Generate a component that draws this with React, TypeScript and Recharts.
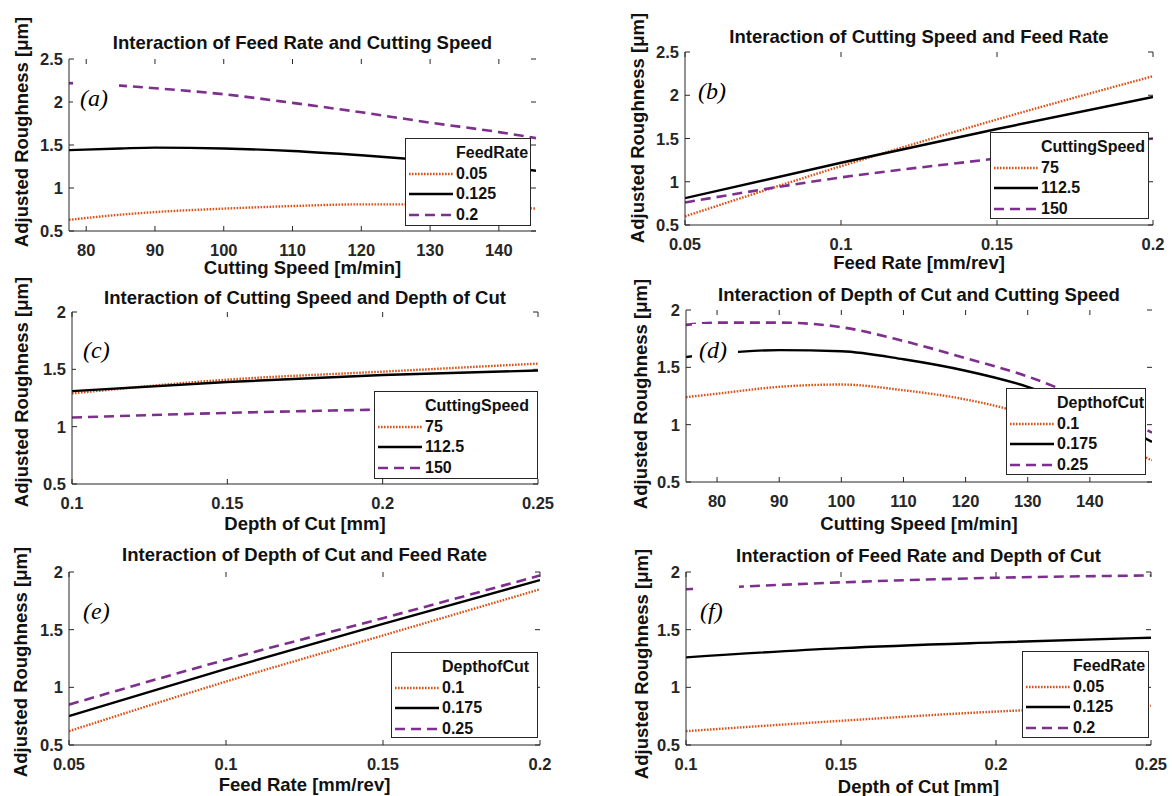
import React from 'react';
import { LineChart, Line, XAxis, YAxis } from 'recharts';

const FONT = '"Liberation Sans", Arial, Helvetica, sans-serif';
const ORANGE = '#D95319';
const PURPLE = '#7E2F8E';
const INK = '#262626';

// (a) feed rate levels over cutting speed
const speedA = [77.5, 85, 90, 100, 110, 120, 130, 140, 145.4];
const aFeed005 = [0.63, 0.69, 0.72, 0.76, 0.79, 0.81, 0.81, 0.79, 0.76];
const aFeed0125 = [1.44, 1.46, 1.47, 1.46, 1.43, 1.38, 1.32, 1.25, 1.2];
const aFeed02 = [2.22, 2.19, 2.16, 2.09, 1.99, 1.88, 1.76, 1.65, 1.58];

// (b) cutting speed levels over feed rate
const feedB = [0.05, 0.1, 0.15, 0.2];
const bSpeed75 = [0.6, 1.18, 1.72, 2.22];
const bSpeed1125 = [0.81, 1.22, 1.61, 1.98];
const bSpeed150 = [0.76, 1.05, 1.27, 1.5];

// (c) cutting speed levels over depth of cut
const depthC = [0.1, 0.15, 0.2, 0.25];
const cSpeed75 = [1.29, 1.41, 1.48, 1.55];
const cSpeed1125 = [1.31, 1.39, 1.45, 1.49];
const cSpeed150 = [1.08, 1.12, 1.15, 1.18];

// (d) depth of cut levels over cutting speed
const speedD = [75, 80, 90, 100, 110, 120, 130, 140, 150];
const dDepth01 = [1.24, 1.27, 1.33, 1.35, 1.3, 1.22, 1.09, 0.91, 0.69];
const dDepth0175 = [1.59, 1.62, 1.65, 1.64, 1.57, 1.47, 1.33, 1.12, 0.85];
const dDepth025 = [1.87, 1.89, 1.89, 1.85, 1.73, 1.58, 1.42, 1.2, 0.93];

// (e) depth of cut levels over feed rate
const feedE = [0.05, 0.1, 0.15, 0.2];
const eDepth01 = [0.62, 1.05, 1.45, 1.85];
const eDepth0175 = [0.75, 1.16, 1.55, 1.93];
const eDepth025 = [0.85, 1.24, 1.6, 1.97];

// (f) feed rate levels over depth of cut
const depthF = [0.1, 0.15, 0.2, 0.25];
const fFeed005 = [0.62, 0.71, 0.79, 0.84];
const fFeed0125 = [1.26, 1.34, 1.39, 1.43];
const fFeed02 = [1.85, 1.91, 1.95, 1.97];

const speedTicks = [80, 90, 100, 110, 120, 130, 140];
const feedTicks = [0.05, 0.1, 0.15, 0.2];
const depthTicks = [0.1, 0.15, 0.2, 0.25];
const yTicksWide = [0.5, 1, 1.5, 2, 2.5];
const yTicksNarrow = [0.5, 1, 1.5, 2];

const feedLevels = ['0.05', '0.125', '0.2'];
const speedLevels = ['75', '112.5', '150'];
const depthLevels = ['0.1', '0.175', '0.25'];

const makeRows = (xs: number[], s1: number[], s2: number[], s3: number[]) =>
  xs.map((x, i) => ({ x, s1: s1[i], s2: s2[i], s3: s3[i] }));

type Box = { l: number; r: number; t: number; b: number };

interface Panel {
  tag: string;
  rows: { x: number; s1: number; s2: number; s3: number }[];
  box: Box;
  xDomain: [number, number];
  xTicks: number[];
  yDomain: [number, number];
  yTicks: number[];
  title: string;
  titleY: number;
  xLabel: string;
  xLabelY: number;
  yLabelX: number;
  yLabelY: number;
  tagX: number;
  tagY: number;
  legendTitle: string;
  legendLabels: string[];
  legend: Box;
}

const panels: Panel[] = [
  {
    tag: '(a)', rows: makeRows(speedA, aFeed005, aFeed0125, aFeed02),
    box: { l: 69, r: 536, t: 59, b: 231 }, xDomain: [77.5, 145.4], xTicks: speedTicks,
    yDomain: [0.5, 2.5], yTicks: yTicksWide,
    title: 'Interaction of Feed Rate and Cutting Speed', titleY: 43,
    xLabel: 'Cutting Speed [m/min]', xLabelY: 268, yLabelX: 22, yLabelY: 132,
    tagX: 80, tagY: 98, legendTitle: 'FeedRate', legendLabels: feedLevels,
    legend: { l: 405, r: 531, t: 138, b: 226 },
  },
  {
    tag: '(b)', rows: makeRows(feedB, bSpeed75, bSpeed1125, bSpeed150),
    box: { l: 685, r: 1153, t: 52, b: 225 }, xDomain: [0.05, 0.2], xTicks: feedTicks,
    yDomain: [0.5, 2.5], yTicks: yTicksWide,
    title: 'Interaction of Cutting Speed and Feed Rate', titleY: 37,
    xLabel: 'Feed Rate [mm/rev]', xLabelY: 263, yLabelX: 638, yLabelY: 128,
    tagX: 698, tagY: 91, legendTitle: 'CuttingSpeed', legendLabels: speedLevels,
    legend: { l: 990, r: 1149, t: 132, b: 219 },
  },
  {
    tag: '(c)', rows: makeRows(depthC, cSpeed75, cSpeed1125, cSpeed150),
    box: { l: 72, r: 538, t: 312, b: 484 }, xDomain: [0.1, 0.25], xTicks: depthTicks,
    yDomain: [0.5, 2], yTicks: yTicksNarrow,
    title: 'Interaction of Cutting Speed and Depth of Cut', titleY: 298,
    xLabel: 'Depth of Cut [mm]', xLabelY: 524, yLabelX: 22, yLabelY: 392,
    tagX: 83, tagY: 350, legendTitle: 'CuttingSpeed', legendLabels: speedLevels,
    legend: { l: 374, r: 538, t: 391, b: 479 },
  },
  {
    tag: '(d)', rows: makeRows(speedD, dDepth01, dDepth0175, dDepth025),
    box: { l: 686, r: 1152, t: 310, b: 482 }, xDomain: [75, 150], xTicks: speedTicks,
    yDomain: [0.5, 2], yTicks: yTicksNarrow,
    title: 'Interaction of Depth of Cut and Cutting Speed', titleY: 295,
    xLabel: 'Cutting Speed [m/min]', xLabelY: 524, yLabelX: 641, yLabelY: 394,
    tagX: 699, tagY: 350, legendTitle: 'DepthofCut', legendLabels: depthLevels,
    legend: { l: 1006, r: 1146, t: 388, b: 475 },
  },
  {
    tag: '(e)', rows: makeRows(feedE, eDepth01, eDepth0175, eDepth025),
    box: { l: 69, r: 540, t: 572, b: 745 }, xDomain: [0.05, 0.2], xTicks: feedTicks,
    yDomain: [0.5, 2], yTicks: yTicksNarrow,
    title: 'Interaction of Depth of Cut and Feed Rate', titleY: 555,
    xLabel: 'Feed Rate [mm/rev]', xLabelY: 785, yLabelX: 21, yLabelY: 662,
    tagX: 83, tagY: 611, legendTitle: 'DepthofCut', legendLabels: depthLevels,
    legend: { l: 391, r: 538, t: 652, b: 738 },
  },
  {
    tag: '(f)', rows: makeRows(depthF, fFeed005, fFeed0125, fFeed02),
    box: { l: 686, r: 1151, t: 572, b: 745 }, xDomain: [0.1, 0.25], xTicks: depthTicks,
    yDomain: [0.5, 2], yTicks: yTicksNarrow,
    title: 'Interaction of Feed Rate and Depth of Cut', titleY: 556,
    xLabel: 'Depth of Cut [mm]', xLabelY: 787, yLabelX: 642, yLabelY: 664,
    tagX: 700, tagY: 611, legendTitle: 'FeedRate', legendLabels: feedLevels,
    legend: { l: 1022, r: 1149, t: 651, b: 738 },
  },
];

const series = [
  { key: 's1', color: ORANGE, dash: '1.6 1.4', width: 2.4 },
  { key: 's2', color: '#000000', dash: undefined, width: 2.4 },
  { key: 's3', color: PURPLE, dash: '10 6', width: 2.6 },
];

const PAD_L = 60;
const PAD_T = 10;
const PAD_R = 26;
const PAD_B = 34;
const TICK = 5;
const TICK_FONT = 16.5;

// bottom ticks: inward tick marks on bottom and top edges plus the label
const makeXTick = (plotTop: number, plotBottom: number) => (props: any) => {
  const { x, payload } = props;
  return (
    <g>
      <line x1={x} x2={x} y1={plotBottom} y2={plotBottom - TICK} stroke={INK} strokeWidth={1} />
      <line x1={x} x2={x} y1={plotTop} y2={plotTop + TICK} stroke={INK} strokeWidth={1} />
      <text x={x} y={plotBottom + 25} textAnchor="middle" fontFamily={FONT} fontSize={TICK_FONT}
        fontWeight={700} fill={INK}>
        {String(payload.value)}
      </text>
    </g>
  );
};

// left ticks: inward tick marks on left and right edges plus the label
const makeYTick = (plotLeft: number, plotRight: number) => (props: any) => {
  const { y, payload } = props;
  return (
    <g>
      <line x1={plotLeft} x2={plotLeft + TICK} y1={y} y2={y} stroke={INK} strokeWidth={1} />
      <line x1={plotRight} x2={plotRight - TICK} y1={y} y2={y} stroke={INK} strokeWidth={1} />
      <text x={plotLeft - 6} y={y + 6} textAnchor="end" fontFamily={FONT} fontSize={TICK_FONT}
        fontWeight={700} fill={INK}>
        {String(payload.value)}
      </text>
    </g>
  );
};

function PanelChart({ p }: { p: Panel }) {
  const pw = p.box.r - p.box.l;
  const ph = p.box.b - p.box.t;
  const w = pw + PAD_L + PAD_R;
  const h = ph + PAD_T + PAD_B;
  return (
    <div style={{ position: 'absolute', left: p.box.l - PAD_L, top: p.box.t - PAD_T }}>
      <LineChart width={w} height={h} data={p.rows} margin={{ top: PAD_T, right: PAD_R, bottom: 0, left: 0 }}>
        <XAxis xAxisId="b" dataKey="x" type="number" domain={p.xDomain} ticks={p.xTicks}
          allowDataOverflow interval={0} height={PAD_B} tickLine={false}
          tick={makeXTick(PAD_T, PAD_T + ph)} stroke={INK} />
        <XAxis xAxisId="t" orientation="top" dataKey="x" type="number" domain={p.xDomain}
          allowDataOverflow height={0} tick={false} tickLine={false} stroke={INK} />
        <YAxis yAxisId="l" type="number" domain={p.yDomain} ticks={p.yTicks} allowDataOverflow
          interval={0} width={PAD_L} tickLine={false} tick={makeYTick(PAD_L, PAD_L + pw)} stroke={INK} />
        <YAxis yAxisId="r" orientation="right" type="number" domain={p.yDomain}
          allowDataOverflow width={0} tick={false} tickLine={false} stroke={INK} />
        {series.map((s) => (
          <Line key={s.key} xAxisId="b" yAxisId="l" type="monotone" dataKey={s.key}
            stroke={s.color} strokeWidth={s.width} strokeDasharray={s.dash} dot={false}
            activeDot={false} isAnimationActive={false} />
        ))}
      </LineChart>
    </div>
  );
}

const textBase: React.CSSProperties = {
  position: 'absolute', fontFamily: FONT, fontWeight: 700, whiteSpace: 'nowrap',
  lineHeight: 1, color: '#111',
};

function Labels({ p }: { p: Panel }) {
  const cx = (p.box.l + p.box.r) / 2;
  return (
    <>
      <div style={{ ...textBase, fontSize: 18.5, left: cx, top: p.titleY, transform: 'translate(-50%, -50%)' }}>
        {p.title}
      </div>
      <div style={{ ...textBase, fontSize: 18.5, left: cx, top: p.xLabelY, transform: 'translate(-50%, -50%)' }}>
        {p.xLabel}
      </div>
      <div style={{ ...textBase, fontSize: 18.5, left: p.yLabelX, top: p.yLabelY, transform: 'translate(-50%, -50%) rotate(-90deg)' }}>
        Adjusted Roughness [μm]
      </div>
      <div style={{ position: 'absolute', left: p.tagX - 7, top: p.tagY - 26, width: 46, height: 52, background: '#fff' }}>
        <div style={{ position: 'absolute', left: 7, top: 26, transform: 'translateY(-50%)', fontFamily: '"Liberation Serif", "Times New Roman", serif', fontStyle: 'italic', fontSize: 24, lineHeight: 1, color: '#000' }}>
          {p.tag}
        </div>
      </div>
    </>
  );
}

function LegendBox({ p }: { p: Panel }) {
  const lg = p.legend;
  const rowsY = [35, 55, 76];
  return (
    <div style={{ position: 'absolute', left: lg.l, top: lg.t, width: lg.r - lg.l, height: lg.b - lg.t, border: `1px solid ${INK}`, background: '#fff', boxSizing: 'border-box' }}>
      <div style={{ ...textBase, fontSize: 16, left: 50, top: 14, transform: 'translateY(-50%)' }}>{p.legendTitle}</div>
      {series.map((s, i) => (
        <React.Fragment key={s.key}>
          <svg style={{ position: 'absolute', left: 3, top: rowsY[i] - 5 }} width={44} height={10}>
            <line x1={0} y1={5} x2={44} y2={5} stroke={s.color} strokeWidth={s.width} strokeDasharray={s.dash} />
          </svg>
          <div style={{ ...textBase, fontSize: 16, left: 50, top: rowsY[i], transform: 'translateY(-50%)' }}>
            {p.legendLabels[i]}
          </div>
        </React.Fragment>
      ))}
    </div>
  );
}

export default function App() {
  return (
    <div style={{ position: 'absolute', left: 0, top: 0, width: 1172, height: 796, background: '#fff', overflow: 'hidden' }}>
      {panels.map((p) => <PanelChart key={p.tag} p={p} />)}
      {panels.map((p) => (
        <React.Fragment key={p.tag + 'o'}>
          <Labels p={p} />
          <LegendBox p={p} />
        </React.Fragment>
      ))}
    </div>
  );
}
